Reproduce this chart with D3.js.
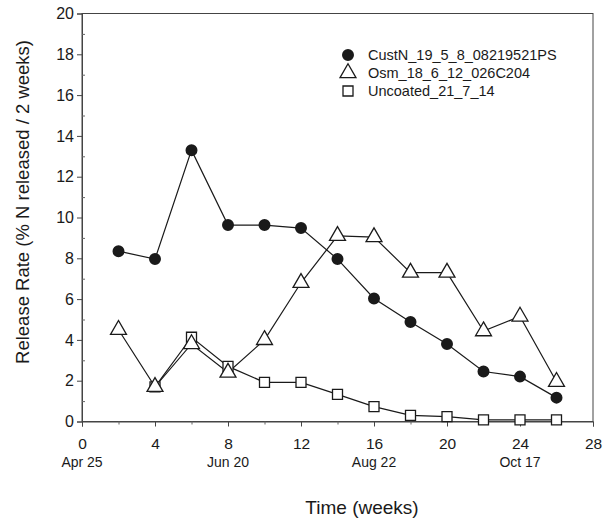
<!DOCTYPE html>
<html><head><meta charset="utf-8">
<script src="https://cdn.jsdelivr.net/npm/d3@7"></script>
<style>
body{margin:0;background:#fff;}
svg{display:block;font-family:"Liberation Sans",Arial,sans-serif;}
</style></head>
<body><svg id="c" width="606" height="520"></svg>
<script>
const weeks = [2,4,6,8,10,12,14,16,18,20,22,24,26];
const custN = [8.35,7.96,13.3,9.63,9.63,9.48,7.96,6.03,4.88,3.8,2.45,2.2,1.17];
const osm = [4.5,1.7,3.8,2.4,4.0,6.8,9.1,9.04,7.3,7.3,4.43,5.15,1.95];
const uncWeeks = [4,6,8,10,12,14,16,18,20,22,24,26];
const uncoated = [1.7,4.13,2.7,1.92,1.92,1.33,0.73,0.3,0.24,0.08,0.08,0.08];
const seriesNames = ["CustN_19_5_8_08219521PS","Osm_18_6_12_026C204","Uncoated_21_7_14"];
const xTicks = [0,4,8,12,16,20,24,28];
const yTicks = [0,2,4,6,8,10,12,14,16,18,20];
const dateLabels = ["Apr 25","Jun 20","Aug 22","Oct 17"];
const dateWeeks = [0,8,16,24];

const svg = d3.select("#c");
const x = d3.scaleLinear().domain([0,28]).range([82,593]);
const y = d3.scaleLinear().domain([0,20]).range([421.5,13.5]);
const ink = "#1a1a1a";

// frame
svg.append("rect").attr("x",x(0)).attr("y",y(20)).attr("width",x(28)-x(0)).attr("height",y(0)-y(20))
  .attr("fill","none").attr("stroke","#444").attr("stroke-width",1);

// y axis
const yAxis = svg.append("g").attr("transform",`translate(${x(0)},0)`)
  .call(d3.axisLeft(y).tickValues(yTicks).tickSize(5).tickPadding(3).tickFormat(d3.format("d")));
yAxis.select(".domain").attr("stroke","#444");
yAxis.selectAll("line").attr("stroke","#444");
yAxis.selectAll("text").attr("font-size",16).attr("fill",ink).attr("font-family","Liberation Sans, Arial, sans-serif");
const yMinor = svg.append("g").attr("transform",`translate(${x(0)},0)`)
  .call(d3.axisRight(y).tickValues(d3.range(1,20,2)).tickSize(3).tickFormat(""));
yMinor.select(".domain").remove();
yMinor.selectAll("line").attr("stroke","#666");

// x axis
const xAxis = svg.append("g").attr("transform",`translate(0,${y(0)})`)
  .call(d3.axisBottom(x).tickValues(xTicks).tickSize(5).tickPadding(11).tickFormat(d3.format("d")));
xAxis.select(".domain").attr("stroke","#444");
xAxis.selectAll("line").attr("stroke","#444");
xAxis.selectAll("text").attr("font-size",15.5).attr("fill",ink).attr("font-family","Liberation Sans, Arial, sans-serif");
const xMinor = svg.append("g").attr("transform",`translate(0,${y(0)})`)
  .call(d3.axisBottom(x).tickValues(d3.range(2,28,4)).tickSize(3).tickFormat(""));
xMinor.select(".domain").remove();
xMinor.selectAll("line").attr("stroke","#666");

// date labels
svg.append("g").selectAll("text").data(dateLabels).join("text")
  .attr("x",(d,i)=>x(dateWeeks[i])).attr("y",467).attr("text-anchor","middle")
  .attr("font-size",14).attr("fill",ink).text(d=>d);

// axis titles
svg.append("text").attr("x",362).attr("y",514).attr("text-anchor","middle")
  .attr("font-size",19).attr("fill",ink).text("Time (weeks)");
svg.append("text").attr("transform","translate(29,202) rotate(-90)").attr("text-anchor","middle")
  .attr("font-size",18.5).attr("fill",ink).text("Release Rate (% N released / 2 weeks)");

const line = d3.line().x(d=>x(d[0])).y(d=>y(d[1]));
const dC = weeks.map((w,i)=>[w,custN[i]]);
const dO = weeks.map((w,i)=>[w,osm[i]]);
const dU = uncWeeks.map((w,i)=>[w,uncoated[i]]);

[dU,dO,dC].forEach(d=>svg.append("path").datum(d).attr("d",line).attr("fill","none").attr("stroke",ink).attr("stroke-width",1.2));

const tri = d3.symbol().type(d3.symbolTriangle).size(110);
const sq = d3.symbol().type(d3.symbolSquare).size(100);
const circ = d3.symbol().type(d3.symbolCircle).size(113);

svg.append("g").selectAll("path").data(dU).join("path").attr("d",sq)
  .attr("transform",d=>`translate(${x(d[0])},${y(d[1])})`).attr("fill","#fff").attr("stroke",ink).attr("stroke-width",1.3);
svg.append("g").selectAll("path").data(dO).join("path").attr("d",tri)
  .attr("transform",d=>`translate(${x(d[0])},${y(d[1])})`).attr("fill","#fff").attr("stroke",ink).attr("stroke-width",1.3);
svg.append("g").selectAll("path").data(dC).join("path").attr("d",circ)
  .attr("transform",d=>`translate(${x(d[0])},${y(d[1])})`).attr("fill",ink);

// legend
const lg = svg.append("g");
const legSym = [circ,tri,sq];
seriesNames.forEach((n,i)=>{
  const yy = 55 + i*18;
  lg.append("path").attr("d",legSym[i]).attr("transform",`translate(348,${yy})`)
    .attr("fill",i===0?ink:"#fff").attr("stroke",ink).attr("stroke-width",i===0?0:1.3);
  lg.append("text").attr("x",368).attr("y",yy+5).attr("font-size",14.5).attr("fill",ink).text(n);
});
</script></body></html>
